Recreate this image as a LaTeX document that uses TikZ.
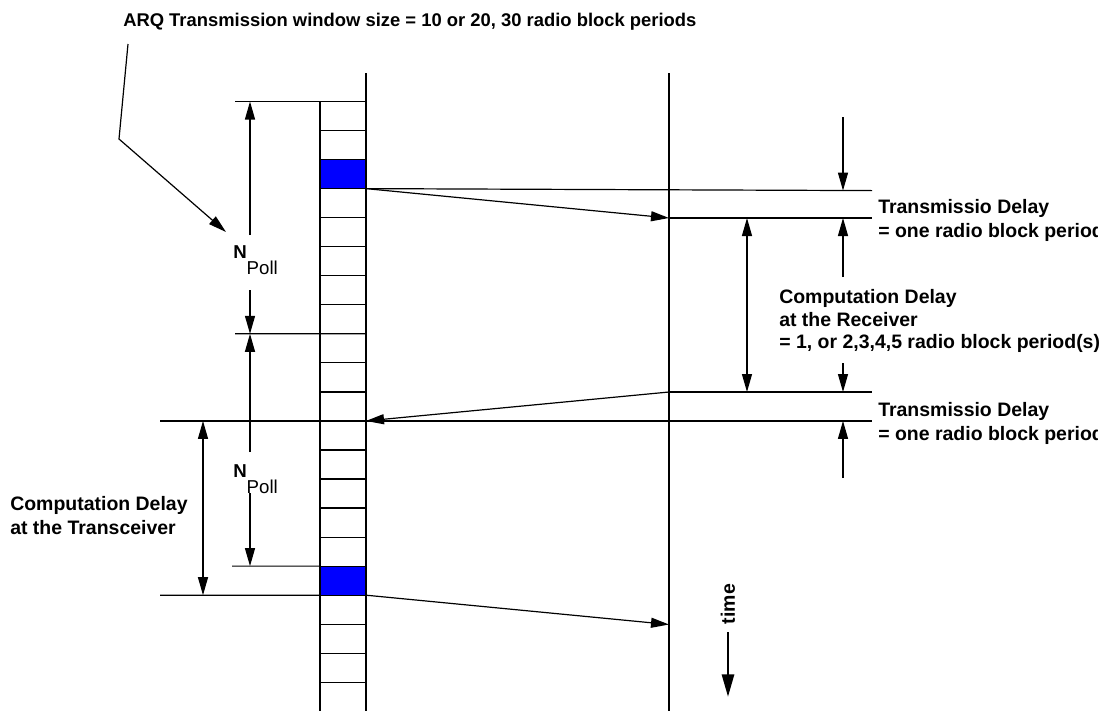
\documentclass[tikz,border=0pt]{standalone}
\usepackage{fontspec}
\setmainfont{Liberation Sans}
\usetikzlibrary{arrows.meta,positioning}

\begin{document}
\begin{tikzpicture}[
        x=0.75pt, y=-0.75pt,
        font=\fontsize{14.6}{17.5}\selectfont\bfseries,
        cell/.style={draw, line width=0.9pt, minimum width=34.5pt, minimum height=21.78pt, inner sep=0pt, outer sep=0pt},
        axis/.style={line width=2.2pt},
        ref/.style={line width=0.9pt},
        arr/.style={-{Triangle[length=13.5pt,width=7.5pt]}, line width=0.9pt},
        dbl/.style={{Triangle[length=13.5pt,width=7.5pt]}-{Triangle[length=13.5pt,width=7.5pt]}, line width=0.9pt},
        lbl/.style={align=left, anchor=north west, inner sep=0pt}
    ]
        \useasboundingbox (0,0) rectangle (1108,711);
        % radio blocks at the transceiver
        \foreach \i in {0,...,20} {
            \ifnum\i=2 \def\cf{blue}\else\ifnum\i=16 \def\cf{blue}\else\def\cf{white}\fi\fi
            \node[cell, fill=\cf] (c\i) at (343,{101.5+29.04*\i+14.52}) {};
        }
        % time lines of transceiver and receiver
        \coordinate (txtop) at (366,73);
        \coordinate (txbot) at (366,711);
        \coordinate (rxtop) at (669,73);
        \coordinate (rxbot) at (669,711);
        \draw[axis] (txtop) -- (txbot);
        \draw[axis] (rxtop) -- (rxbot);

        % reference lines
        \coordinate (ra) at (669,218);
        \coordinate (rb) at (669,392);
        \coordinate (rc) at (669,624.5);
        \draw[ref] (235,101.5) -- (c0.north east);
        \draw[ref] (235,333.8) -- (c8.north east);
        \draw[ref] (c2.south east) -- (872,190.6);
        \draw[ref] (ra) -- (872,218);
        \draw[ref] (rb) -- (872,392);
        \draw[ref] (160,420.9) -- (872,420.9);
        \draw[ref] (232,566.1) -- (c16.north west);
        \draw[ref] (160,595.2) -- (c16.south west);

        % transmissions
        \draw[arr] (c2.south east) -- (ra);
        \draw[arr] (rb) -- (c11.north east);
        \draw[arr] (c16.south east) -- (rc);

        % window size
        \node[anchor=base west, inner sep=0pt, font=\fontsize{13.8}{16}\selectfont\bfseries] (arq) at (123,26) {ARQ Transmission window size = 10 or 20, 30 radio block periods};
        \draw[arr] (128,44) -- (119,139) -- (226,232);

        \node[anchor=base west, inner sep=0pt, font=\fontsize{14}{16}\selectfont\bfseries] (np1) at (233,258.5) {N\raisebox{-12pt}{\mdseries Poll}};
        \node[anchor=base west, inner sep=0pt, font=\fontsize{14}{16}\selectfont\bfseries] (np2) at (233,477.5) {N\raisebox{-12pt}{\mdseries Poll}};
        \draw[arr] (250,235) -- (c0.north -| 250,0);
        \draw[arr] (250,290) -- (c8.north -| 250,0);
        \draw[arr] (250,452) -- (c8.north -| 250,0);
        \draw[arr] (250,493) -- (c16.north -| 250,0);

        % delays
        \draw[dbl] (203,420.9) -- (203,595.2);
        \draw[dbl] (747,218) -- (747,392);
        \draw[arr] (843,117) -- (843,190.6);
        \draw[arr] (843,277) -- (843,218);
        \draw[arr] (843,363) -- (843,392);
        \draw[arr] (843,478) -- (843,420.9);

        \begin{scope}
            \clip (0,0) rectangle (1097,711);
            \node[lbl] (td1) at (878,199.4) {Transmissio Delay\\= one radio block period};
            \node[lbl] (td2) at (878,402.4) {Transmissio Delay\\= one radio block period};
        \end{scope}
        \node[lbl, font=\fontsize{14.6}{17}\selectfont\bfseries] (cdr) at (779,289) {Computation Delay\\at the Receiver\\= 1, or 2,3,4,5 radio block period(s)};
        \node[lbl] (cdt) at (10,496.4) {Computation Delay\\at the Transceiver};

        % time direction
        \node[rotate=90, inner sep=0pt] (time) at (728,604) {time};
        \draw[-{Triangle[length=17pt,width=9pt]}, line width=2.2pt] (728,632) -- (728,697);
    \end{tikzpicture}
\end{document}
